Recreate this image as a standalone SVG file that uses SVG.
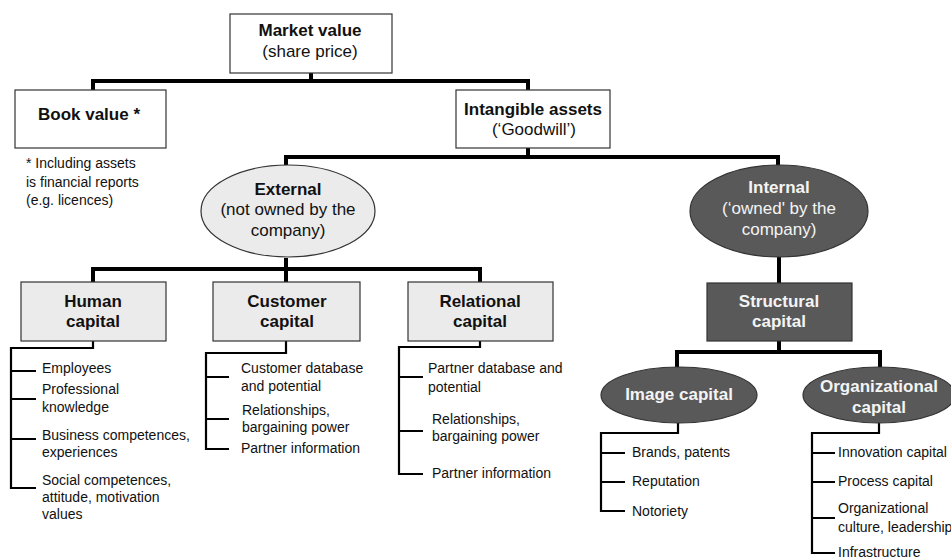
<svg xmlns="http://www.w3.org/2000/svg" width="951" height="559" viewBox="0 0 951 559">
<style>
  text { font-family: "Liberation Sans", Arial, sans-serif; fill: #111; }
  .t { font-size: 17px; text-anchor: middle; }
  .b { font-weight: bold; }
  .w { fill: #f4f4f4; }
  .s { font-size: 14px; }
  .white { fill: #fff; stroke: #333; stroke-width: 1.2; }
  .light { fill: #ebebeb; stroke: #333; stroke-width: 1.2; }
  .dark { fill: #595959; stroke: #333; stroke-width: 1.2; }
  .thick { fill: none; stroke: #000; stroke-width: 4; stroke-linejoin: miter; }
  .thin { fill: none; stroke: #000; stroke-width: 2.2; stroke-linejoin: miter; }
</style>
<rect width="951" height="559" fill="#fff"/>

<g id="connectors">
  <path class="thick" d="M311,73 V81 M93,90 V81 H528 V90"/>
  <path class="thick" d="M528,148 V157 M286,165 V157 H778 V165"/>
  <path class="thick" d="M286,258 V269 M93,282 V269 H480 V282 M286,269 V282"/>
  <path class="thick" d="M779,257 V283"/>
  <path class="thick" d="M779,341 V352 M677,367 V352 H880 V367"/>
  <path class="thin" d="M93,341 V348 H11 V488 H36 M11,371 H36 M11,399 H36 M11,439 H36"/>
  <path class="thin" d="M286,341 V353 H206 V449 H229 M206,377 H229 M206,419 H229"/>
  <path class="thin" d="M480,341 V347 H399 V474 H423 M399,377 H423 M399,431 H423"/>
  <path class="thin" d="M678,423 V433 H601 V511 H625 M601,453 H625 M601,482 H625"/>
  <path class="thin" d="M879,423 V433 H812 V553 H835 M812,453 H835 M812,482 H835 M812,518 H835"/>
</g>

<g id="market">
  <rect class="white" x="230" y="14" width="162" height="59"/>
  <text class="t b" x="310" y="36">Market value</text>
  <text class="t" x="310" y="57">(share price)</text>
</g>

<g id="book">
  <rect class="white" x="15" y="90" width="151" height="58"/>
  <text class="t b" x="89" y="120">Book value *</text>
</g>

<g id="footnote">
  <text class="s" x="26" y="168">* Including assets</text>
  <text class="s" x="26" y="187">is financial reports</text>
  <text class="s" x="26" y="205">(e.g. licences)</text>
</g>

<g id="intangible">
  <rect class="white" x="456" y="90" width="154" height="58"/>
  <text class="t b" x="533" y="115">Intangible assets</text>
  <text class="t" x="534" y="135">(‘Goodwill’)</text>
</g>

<g id="external">
  <ellipse class="light" cx="288" cy="211" rx="87" ry="46"/>
  <text class="t b" x="288" y="195">External</text>
  <text class="t" x="288" y="215">(not owned by the</text>
  <text class="t" x="288" y="236">company)</text>
</g>

<g id="internal">
  <ellipse class="dark" cx="779" cy="211" rx="89" ry="46"/>
  <text class="t b w" x="779" y="193">Internal</text>
  <text class="t w" x="779" y="214">(‘owned' by the</text>
  <text class="t w" x="779" y="235">company)</text>
</g>

<g id="human">
  <rect class="light" x="21" y="282" width="145" height="59"/>
  <text class="t b" x="93" y="307">Human</text>
  <text class="t b" x="93" y="327">capital</text>
</g>

<g id="customer">
  <rect class="light" x="213" y="282" width="147" height="59"/>
  <text class="t b" x="287" y="307">Customer</text>
  <text class="t b" x="287" y="327">capital</text>
</g>

<g id="relational">
  <rect class="light" x="408" y="282" width="145" height="59"/>
  <text class="t b" x="480" y="307">Relational</text>
  <text class="t b" x="480" y="327">capital</text>
</g>

<g id="structural">
  <rect class="dark" x="707" y="283" width="145" height="58"/>
  <text class="t b w" x="779" y="307">Structural</text>
  <text class="t b w" x="779" y="327">capital</text>
</g>

<g id="image">
  <ellipse class="dark" cx="679" cy="395" rx="78" ry="28"/>
  <text class="t b w" x="679" y="400">Image capital</text>
</g>

<g id="organizational">
  <ellipse class="dark" cx="879" cy="395" rx="76" ry="28"/>
  <text class="t b w" x="879" y="392">Organizational</text>
  <text class="t b w" x="879" y="413">capital</text>
</g>

<g id="human-list">
  <text class="s" x="42" y="373">Employees</text>
  <text class="s" x="42" y="394">Professional</text>
  <text class="s" x="42" y="412">knowledge</text>
  <text class="s" x="42" y="440">Business competences,</text>
  <text class="s" x="42" y="457">experiences</text>
  <text class="s" x="42" y="485">Social competences,</text>
  <text class="s" x="42" y="502">attitude, motivation</text>
  <text class="s" x="42" y="519">values</text>
</g>

<g id="customer-list">
  <text class="s" x="241" y="373">Customer database</text>
  <text class="s" x="241" y="391">and potential</text>
  <text class="s" x="242" y="415">Relationships,</text>
  <text class="s" x="242" y="432">bargaining power</text>
  <text class="s" x="241" y="453">Partner information</text>
</g>

<g id="relational-list">
  <text class="s" x="428" y="373">Partner database and</text>
  <text class="s" x="428" y="392">potential</text>
  <text class="s" x="432" y="424">Relationships,</text>
  <text class="s" x="432" y="441">bargaining power</text>
  <text class="s" x="432" y="478">Partner information</text>
</g>

<g id="image-list">
  <text class="s" x="632" y="457">Brands, patents</text>
  <text class="s" x="632" y="486">Reputation</text>
  <text class="s" x="632" y="516">Notoriety</text>
</g>

<g id="organizational-list">
  <text class="s" x="838" y="457">Innovation  capital</text>
  <text class="s" x="838" y="486">Process capital</text>
  <text class="s" x="838" y="513">Organizational</text>
  <text class="s" x="838" y="532">culture, leadership</text>
  <text class="s" x="838" y="557">Infrastructure</text>
</g>
</svg>
